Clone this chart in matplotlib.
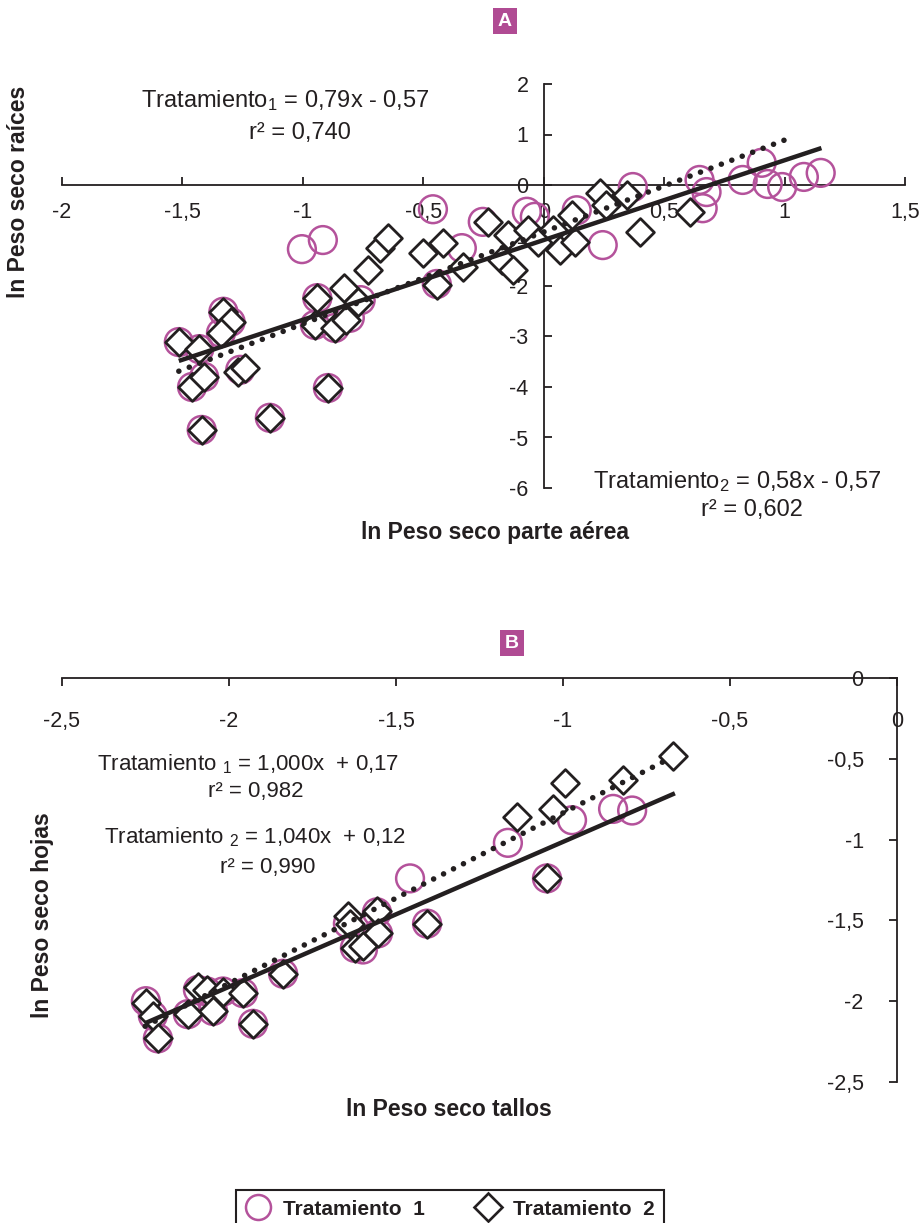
import numpy as np
import matplotlib
matplotlib.use("Agg")
import matplotlib.pyplot as plt
from matplotlib.lines import Line2D
from matplotlib.ticker import FixedLocator, FuncFormatter

plt.rcParams['font.family'] = ['Liberation Sans', 'DejaVu Sans']
plt.rcParams['mathtext.fontset'] = 'custom'
plt.rcParams['mathtext.rm'] = 'Liberation Sans'
plt.rcParams['mathtext.it'] = 'Liberation Sans'

INK = '#231f20'
MAGENTA = '#b4529b'

# Panel A: ln dry weight aerial part (x) vs ln dry weight roots (y)
a_t1_x = [-1.004, -0.917, -1.515, -1.43, -1.33, -1.30, -1.34, -1.46, -1.41, -1.26,
          -1.42, -1.137, -0.896, -0.94, -0.95, -0.867, -0.805, -0.76, -0.46, -0.444,
          -0.34, -0.253, -0.07, -0.037, 0.137, 0.245, 0.37, 0.647, 0.66, 0.676,
          0.826, 0.905, 0.93, 0.99, 1.08, 1.15]
a_t1_y = [-1.27, -1.09, -3.11, -3.25, -2.51, -2.71, -2.93, -4.00, -3.80, -3.66,
          -4.85, -4.61, -4.02, -2.24, -2.77, -2.83, -2.63, -2.28, -0.48, -1.96,
          -1.25, -0.73, -0.53, -0.63, -0.50, -1.19, -0.04, 0.10, -0.46, -0.14,
          0.10, 0.44, 0.02, -0.04, 0.16, 0.24]
a_t2_x = [-1.515, -1.43, -1.33, -1.30, -1.34, -1.46, -1.41, -1.27, -1.24, -1.42,
          -1.137, -0.896, -0.94, -0.95, -0.867, -0.82, -0.83, -0.77, -0.73, -0.68,
          -0.647, -0.50, -0.42, -0.444, -0.336, -0.232, -0.15, -0.174, -0.129, -0.066,
          -0.025, 0.037, 0.066, 0.116, 0.129, 0.232, 0.26, 0.344, 0.40, 0.606]
a_t2_y = [-3.11, -3.25, -2.51, -2.71, -2.93, -4.00, -3.80, -3.70, -3.62, -4.85,
          -4.61, -4.02, -2.24, -2.77, -2.83, -2.67, -2.04, -2.32, -1.68, -1.25,
          -1.05, -1.35, -1.15, -1.98, -1.62, -0.73, -0.99, -1.49, -1.68, -0.89,
          -1.13, -0.89, -1.29, -0.59, -1.13, -0.16, -0.40, -0.20, -0.93, -0.53]
# fitted lines as drawn: slope, intercept, x range
a_fit1 = (1.58, -1.09, -1.515, 1.153)
a_fit2 = (1.82, -0.93, -1.515, 1.02)

# Panel B: ln dry weight stems (x) vs ln dry weight leaves (y)
b_t1_x = [-2.249, -2.228, -2.213, -2.123, -2.093, -2.066, -2.048, -2.018, -1.958, -1.928,
          -1.838, -1.644, -1.623, -1.599, -1.557, -1.554, -1.458, -1.407, -1.165, -1.048,
          -0.973, -0.850, -0.793]
b_t1_y = [-2.00, -2.09, -2.23, -2.08, -1.93, -1.94, -2.06, -1.94, -1.95, -2.14,
          -1.83, -1.52, -1.67, -1.68, -1.45, -1.58, -1.24, -1.52, -1.02, -1.24,
          -0.88, -0.81, -0.82]
b_t2_x = [-2.249, -2.228, -2.213, -2.123, -2.093, -2.066, -2.048, -2.018, -1.958, -1.928,
          -1.838, -1.644, -1.638, -1.623, -1.599, -1.557, -1.554, -1.407, -1.138, -1.048,
          -1.030, -0.994, -0.820, -0.671]
b_t2_y = [-2.01, -2.09, -2.23, -2.08, -1.91, -1.93, -2.06, -1.94, -1.95, -2.14,
          -1.83, -1.47, -1.52, -1.67, -1.66, -1.44, -1.58, -1.52, -0.86, -1.24,
          -0.81, -0.65, -0.63, -0.48]
b_fit1 = (0.897, -0.117, -2.251, -0.665)
b_fit2 = (1.055, 0.220, -2.251, -0.674)

a_xticks = [-2, -1.5, -1, -0.5, 0, 0.5, 1, 1.5]
a_yticks = [-6, -5, -4, -3, -2, -1, 0, 1, 2]
b_xticks = [-2.5, -2, -1.5, -1, -0.5, 0]
b_yticks = [-2.5, -2, -1.5, -1, -0.5, 0]

W, H = 920, 1223
TICK_FS = 15.5
EQ_FS = 17
LAB_FS = 16.5


def fx(px):
    return px / W


def fy(py):
    return 1 - py / H


def comma(v, pos=None):
    s = ('%g' % v).replace('.', ',')
    return s


def draw_points(ax, t1x, t1y, t2x, t2y, fit1, fit2):
    ax.scatter(t1x, t1y, s=400, facecolors='none', edgecolors=MAGENTA,
               linewidths=1.8, zorder=3, clip_on=False)
    ax.scatter(t2x, t2y, s=200, marker='D', facecolors='white', edgecolors=INK,
               linewidths=2.0, zorder=4, clip_on=False)
    for (m, b, x0, x1), style in ((fit1, 'solid'), (fit2, 'dotted')):
        xs = np.array([x0, x1])
        if style == 'solid':
            ax.plot(xs, m * xs + b, color=INK, lw=3.2, solid_capstyle='butt', zorder=6)
        else:
            ax.plot(xs, m * xs + b, color=INK, lw=4.0, linestyle=(0, (0.01, 2.0)),
                    dash_capstyle='round', zorder=5)


def style_axes(ax, xticks, yticks, xdir, ydir, xpad, ypad):
    ax.patch.set_alpha(0)
    for sp in ('top', 'right'):
        ax.spines[sp].set_visible(False)
    ax.spines['left'].set_position(('data', 0))
    ax.spines['bottom'].set_position(('data', 0))
    for sp in ('left', 'bottom'):
        ax.spines[sp].set_linewidth(1.3)
        ax.spines[sp].set_color(INK)
    ax.xaxis.set_major_locator(FixedLocator(xticks))
    ax.yaxis.set_major_locator(FixedLocator(yticks))
    ax.xaxis.set_major_formatter(FuncFormatter(comma))
    ax.yaxis.set_major_formatter(FuncFormatter(comma))
    ax.tick_params(axis='x', direction=xdir, length=6, width=1.3, pad=xpad,
                   labelsize=TICK_FS, colors=INK)
    ax.tick_params(axis='y', direction=ydir, length=6, width=1.3, pad=ypad,
                   labelsize=TICK_FS, colors=INK)


fig = plt.figure(figsize=(9.2, 12.23), dpi=100)

# ---------------- panel A ----------------
axA = fig.add_axes([fx(62), fy(488), (905 - 62) / W, (488 - 84) / H])
axA.set_xlim(-2, 1.5)
axA.set_ylim(-6, 2)
style_axes(axA, a_xticks, a_yticks, 'in', 'in', 12, 11)
draw_points(axA, a_t1_x, a_t1_y, a_t2_x, a_t2_y, a_fit1, a_fit2)

fig.text(fx(285), fy(101), 'Tratamiento$_1$ = 0,79x - 0,57', ha='center', va='center',
         fontsize=EQ_FS, color=INK)
fig.text(fx(300), fy(133), 'r² = 0,740', ha='center', va='center', fontsize=EQ_FS, color=INK)
fig.text(fx(737), fy(482), 'Tratamiento$_2$ = 0,58x - 0,57', ha='center', va='center',
         fontsize=EQ_FS, color=INK)
fig.text(fx(752), fy(510), 'r² = 0,602', ha='center', va='center', fontsize=EQ_FS, color=INK)
fig.text(fx(495), fy(533), 'ln Peso seco parte aérea', ha='center', va='center',
         fontsize=LAB_FS, fontweight='bold', color=INK)
fig.text(fx(19), fy(192), 'ln Peso seco raíces', ha='center', va='center', rotation=90,
         fontsize=LAB_FS, fontweight='bold', color=INK)

# ---------------- panel B ----------------
axB = fig.add_axes([fx(62), fy(1082), (897 - 62) / W, (1082 - 678) / H])
axB.set_xlim(-2.5, 0)
axB.set_ylim(-2.5, 0)
style_axes(axB, b_xticks, b_yticks, 'out', 'out', 18, 18)
draw_points(axB, b_t1_x, b_t1_y, b_t2_x, b_t2_y, b_fit1, b_fit2)

fig.text(fx(248), fy(764), 'Tratamiento $_1$ = 1,000x  + 0,17', ha='center', va='center',
         fontsize=16, color=INK)
fig.text(fx(256), fy(792), 'r² = 0,982', ha='center', va='center', fontsize=16, color=INK)
fig.text(fx(255), fy(837), 'Tratamiento $_2$ = 1,040x  + 0,12', ha='center', va='center',
         fontsize=16, color=INK)
fig.text(fx(268), fy(867), 'r² = 0,990', ha='center', va='center', fontsize=16, color=INK)
fig.text(fx(449), fy(1109), 'ln Peso seco tallos', ha='center', va='center',
         fontsize=LAB_FS, fontweight='bold', color=INK)
fig.text(fx(43), fy(915), 'ln Peso seco hojas', ha='center', va='center', rotation=90,
         fontsize=LAB_FS, fontweight='bold', color=INK)

# panel letters
for letter, (px, py) in (('A', (505, 21)), ('B', (512, 643))):
    fig.text(fx(px), fy(py), letter, ha='center', va='center', fontsize=14,
             fontweight='bold', color='white',
             bbox=dict(boxstyle='square,pad=0.25', facecolor='#b04b93', edgecolor='none'))

# legend
handles = [
    Line2D([], [], marker='o', linestyle='none', markersize=18, markerfacecolor='none',
           markeredgecolor=MAGENTA, markeredgewidth=1.8, label='Tratamiento  1'),
    Line2D([], [], marker='D', linestyle='none', markersize=14, markerfacecolor='white',
           markeredgecolor=INK, markeredgewidth=1.9, label='Tratamiento  2'),
]
leg = fig.legend(handles=handles, loc='upper center', bbox_to_anchor=(fx(450), fy(1180)),
                 ncol=2, frameon=True, fancybox=False, edgecolor=INK, framealpha=1,
                 prop={'weight': 'bold', 'size': 15}, handletextpad=0.6,
                 columnspacing=2.4, borderpad=0.45, handlelength=1.2)
leg.get_frame().set_linewidth(1.5)
for t in leg.get_texts():
    t.set_color(INK)

fig.savefig('out.png', dpi=100)
